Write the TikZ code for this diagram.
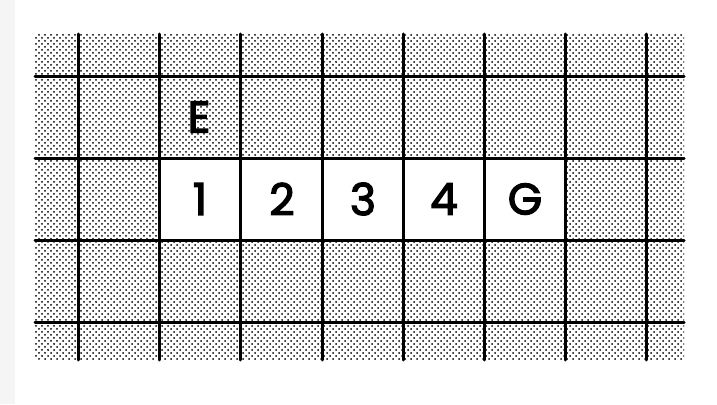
\documentclass[tikz,border=0pt]{standalone}
\usepackage{fontspec}
\setmainfont{Poppins}
\newfontfamily\cellfont[FakeBold=3]{Poppins}
\usetikzlibrary{patterns}
\pgfdeclarepatternformonly{stippledots}{\pgfpoint{-1pt}{-1pt}}{\pgfpoint{5pt}{5pt}}{\pgfpoint{6pt}{6pt}}{
  \pgfpathcircle{\pgfpoint{0pt}{0pt}}{1pt}
  \pgfpathcircle{\pgfpoint{3pt}{3pt}}{1pt}
  \pgfusepath{fill}
}
\tikzset{
  stipple/.style={pattern=stippledots, pattern color=black},
  gridline/.style={line width=3pt, line cap=round},
  celltext/.style={font=\fontsize{44}{44}\cellfont, inner sep=0pt},
}
\begin{document}
\begin{tikzpicture}[x=1pt,y=-1pt]
\useasboundingbox (0,0) rectangle (717,404);
\fill[gray!8] (0,0) rectangle (15,404);
% stippled board
\fill[stipple] (35,34) rectangle (684,360);
\fill[white] (159,158) rectangle (565,240);
\foreach \x in {78,159,240,322,403,484,565,646}
  \draw[gridline] (\x,34) -- (\x,360);
\foreach \y in {76,158,240,322}
  \draw[gridline] (35,\y) -- (684,\y);
% labels
\node[celltext] (cellE) at (199,117) {E};
\node[celltext] (cellA) at (200,199) {1};
\node[celltext] (cellB) at (282,199) {2};
\node[celltext] (cellC) at (363,199) {3};
\node[celltext] (cellD) at (444,199) {4};
\node[celltext] (cellG) at (525,199) {G};
\end{tikzpicture}
\end{document}
